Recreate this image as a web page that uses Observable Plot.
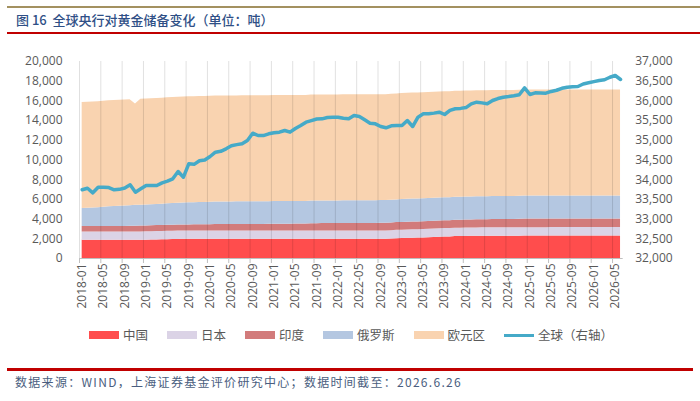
<!DOCTYPE html>
<html><head><meta charset="utf-8">
<script src="https://cdn.jsdelivr.net/npm/d3@7"></script>
<script src="https://cdn.jsdelivr.net/npm/@observablehq/plot@0.6"></script>
<style>
body{margin:0;width:700px;height:401px;background:#fff;overflow:hidden;font-family:"Noto Sans CJK SC",sans-serif;position:relative}
#top{position:absolute;left:7px;right:0;top:6px;height:2px;background:#a39160}
#title{position:absolute;left:16px;top:11px;font-size:13px;line-height:18px;color:#2f4f86;font-weight:500;white-space:pre}
#rule1{position:absolute;left:7px;right:0;top:32px;height:2px;background:#c00000}
#chart{position:absolute;left:0;top:40px}
#legend{position:absolute;left:0;width:702px;top:327px;display:flex;justify-content:center;gap:19px;font-size:12.5px;color:#595959;line-height:16px}
.item{display:flex;align-items:center;gap:4px}
.sw{width:30px;height:8px}
.ln{width:30px;height:3px}
#rule2{position:absolute;left:7px;right:7px;top:368px;height:2.5px;background:#c00000}
#caption{position:absolute;left:15px;top:374px;font-size:12px;letter-spacing:1.3px;color:#4a5e80;line-height:16px;white-space:nowrap}
</style></head>
<body>
<div id="top"></div>
<div id="title">图 16  全球央行对黄金储备变化（单位：吨）</div>
<div id="rule1"></div>
<div id="chart"></div>
<div id="legend"></div>
<div id="rule2"></div>
<div id="caption">数据来源：WIND，上海证券基金评价研究中心；数据时间截至：2026.6.26</div>
<script>
// Monthly data 2018-01 .. 2026-06 (102 months), tonnes
const seriesNames = ["中国", "日本", "印度", "俄罗斯", "欧元区"];
const seriesColors = ["#ff4d4d", "#dbd3e6", "#d27b7b", "#b4c7e1", "#f9d3b0"];
const lineName = "全球（右轴）";
const lineColor = "#45aac8";

const tickLabels = ["2018-01","2018-05","2018-09","2019-01","2019-05","2019-09","2020-01","2020-05","2020-09",
  "2021-01","2021-05","2021-09","2022-01","2022-05","2022-09","2023-01","2023-05","2023-09",
  "2024-01","2024-05","2024-09","2025-01","2025-05","2025-09","2026-01","2026-05"];

const china = [
  1843,1843,1843,1843,1843,1843,1843,1843,1843,1843,1843,1852,
  1864,1874,1885,1896,1912,1926,1936,1945,1948,1948,1948,1948,
  1948,1948,1948,1948,1948,1948,1948,1948,1948,1948,1948,1948,
  1948,1948,1948,1948,1948,1948,1948,1948,1948,1948,1948,1948,
  1948,1948,1948,1948,1948,1948,1948,1948,1948,1948,1980,2010,
  2025,2050,2068,2076,2092,2113,2137,2165,2191,2192,2226,2235,
  2245,2257,2262,2264,2264,2264,2264,2264,2264,2264,2269,2280,
  2282,2283,2285,2287,2289,2290,2290,2290,2290,2290,2290,2290,
  2290,2290,2290,2290,2290,2290];
const japan = [
  846,846,846,846,846,846,846,846,846,846,846,846,
  846,846,846,846,846,846,846,846,846,846,846,846,
  846,846,846,846,846,846,846,846,846,846,846,846,
  846,846,846,846,846,846,846,846,846,846,846,846,
  846,846,846,846,846,846,846,846,846,846,846,846,
  846,846,846,846,846,846,846,846,846,846,846,846,
  846,846,846,846,846,846,846,846,846,846,846,846,
  846,846,846,846,846,846,846,846,846,846,846,846,
  846,846,846,846,846,846];
const india = [
  558,558,558,558,560,561,561,562,570,586,592,599,
  602,607,608,608,608,611,612,618,618,626,627,633,
  641,650,653,653,653,657,658,668,668,668,670,677,
  686,687,695,695,705,705,705,744,744,754,754,754,
  757,760,760,760,761,767,767,768,785,785,785,788,
  788,789,794,795,798,798,800,801,801,801,803,804,
  812,817,822,822,827,840,840,854,854,854,862,876,
  876,876,879,879,880,880,880,880,880,880,880,880,
  880,880,880,880,880,880];
const russia = [
  1839,1857,1890,1909,1944,2000,2036,2066,2067,2092,2113,2113,
  2119,2136,2150,2168,2183,2207,2219,2229,2245,2252,2262,2271,
  2280,2290,2299,2299,2299,2299,2299,2299,2299,2299,2299,2299,
  2298,2298,2298,2298,2298,2298,2298,2298,2298,2298,2298,2298,
  2298,2298,2298,2298,2298,2298,2298,2298,2298,2298,2298,2298,
  2333,2333,2333,2333,2333,2333,2333,2333,2333,2333,2333,2333,
  2335,2335,2335,2335,2335,2335,2335,2335,2335,2335,2335,2335,
  2335,2335,2335,2335,2335,2335,2335,2335,2335,2335,2335,2335,
  2335,2335,2335,2335,2335,2335];
const eurozone = [
  10760,10760,10760,10760,10760,10760,10760,10760,10760,10760,10300,10760,
  10760,10760,10760,10760,10760,10760,10760,10760,10760,10760,10760,10760,
  10760,10760,10760,10760,10760,10760,10760,10760,10760,10760,10760,10760,
  10760,10760,10760,10760,10760,10760,10760,10760,10760,10760,10760,10760,
  10760,10760,10760,10760,10760,10760,10760,10760,10760,10760,10760,10760,
  10760,10760,10760,10760,10760,10760,10760,10760,10760,10760,10760,10760,
  10760,10760,10760,10760,10760,10760,10760,10760,10760,10760,10760,10760,
  10760,10760,10760,10760,10760,10760,10760,10760,10760,10760,10760,10760,
  10760,10760,10760,10760,10760,10760];
// global official gold reserves (right axis)
const globalTotal = [
  33744,33784,33667,33810,33810,33800,33744,33755,33790,33870,33683,33770,
  33853,33853,33853,33920,33962,34023,34208,34063,34403,34390,34480,34500,
  34589,34698,34720,34784,34860,34890,34911,34995,35180,35122,35120,35164,
  35190,35206,35249,35206,35300,35376,35460,35500,35540,35545,35580,35587,
  35587,35560,35545,35629,35604,35520,35434,35418,35350,35317,35368,35376,
  35376,35503,35350,35587,35672,35672,35690,35714,35655,35760,35800,35810,
  35830,35926,35967,35950,35926,36010,36060,36094,36110,36130,36155,36332,
  36162,36205,36200,36196,36240,36270,36320,36348,36360,36365,36430,36460,
  36490,36518,36536,36600,36645,36543];

const stackSeries = [china, japan, india, russia, eurozone];
const rows = [];
stackSeries.forEach((arr, k) => arr.forEach((v, i) => rows.push({i, s: seriesNames[k], v})));
const lineRows = globalTotal.map((v, i) => ({i, v}));

const leftTicks = d3.range(0, 20001, 2000);
const labelPos = tickLabels.map((_, k) => k * 4);
const boundaries = tickLabels.map((_, k) => k * 4 - 0.5);
// right axis 32,000..37,000 mapped onto left 0..20,000
const toLeft = v => (v - 32000) * 4;

const chart = Plot.plot({
  width: 700,
  height: 290,
  marginLeft: 79,
  marginRight: 77.3,
  marginTop: 21,
  marginBottom: 72,
  style: {fontFamily: "'Open Sans', sans-serif", fontSize: "12px", color: "#595959", background: "transparent"},
  x: {type: "linear", domain: [-0.5, 101.5]},
  y: {domain: [0, 20000]},
  color: {domain: seriesNames, range: seriesColors},
  marks: [
    Plot.areaY(rows, {x: "i", y: "v", z: "s", fill: "s"}),
    Plot.ruleX(boundaries, {stroke: "#000", strokeOpacity: 0.12}),
    Plot.ruleY([0], {stroke: "#bfbfbf"}),
    Plot.line(lineRows, {x: "i", y: d => toLeft(d.v), stroke: lineColor, strokeWidth: 3.5, strokeLinejoin: "round", strokeLinecap: "round"}),
    Plot.axisY(leftTicks, {anchor: "left", label: null, tickSize: 0, tickPadding: 17, tickFormat: d3.format(","), fontSize: 12}),
    Plot.axisY(leftTicks, {anchor: "right", label: null, tickSize: 0, tickPadding: 12, tickFormat: d => d3.format(",")(32000 + d / 4), fontSize: 12}),
    Plot.axisX(boundaries, {label: null, tickSize: 5, stroke: "#bfbfbf", tickFormat: () => ""}),
    Plot.axisX(labelPos, {label: null, tickSize: 0, tickPadding: 5, tickRotate: -90, tickFormat: d => tickLabels[d / 4], fontSize: 12})
  ]
});
document.getElementById("chart").appendChild(chart);

const legend = document.getElementById("legend");
seriesNames.forEach((n, k) => {
  const it = document.createElement("div"); it.className = "item";
  it.innerHTML = `<span class="sw" style="background:${seriesColors[k]}"></span><span>${n}</span>`;
  legend.appendChild(it);
});
const li = document.createElement("div"); li.className = "item";
li.innerHTML = `<span class="ln" style="background:${lineColor}"></span><span>${lineName}</span>`;
legend.appendChild(li);
</script>
</body></html>
